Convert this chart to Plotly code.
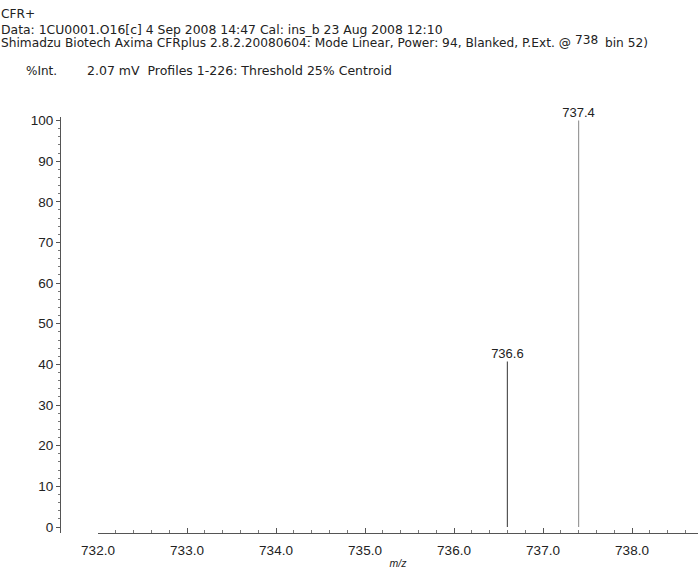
import plotly.graph_objects as go

# Data
peak_mz = [736.6, 737.4]
peak_int = [40.7, 100.0]
peak_labels = ["736.6", "737.4"]
peak_colors = ["#555555", "#9a9a9a"]
x_tick_vals = [732.0, 733.0, 734.0, 735.0, 736.0, 737.0, 738.0]
x_tick_text = ["732.0", "733.0", "734.0", "735.0", "736.0", "737.0", "738.0"]
y_tick_vals = [0, 10, 20, 30, 40, 50, 60, 70, 80, 90, 100]

header_line1 = "CFR+"
header_line2 = "Data: 1CU0001.O16[c] 4 Sep 2008 14:47 Cal: ins_b 23 Aug 2008 12:10"
header_line3 = "Shimadzu Biotech Axima CFRplus 2.8.2.20080604: Mode Linear, Power: 94, Blanked, P.Ext. @"
header_ext = "738"
header_tail = "bin 52)"
sub_left = "%Int."
sub_right = "2.07 mV  Profiles 1-226: Threshold 25% Centroid"

FONT = "Liberation Sans, Arial, sans-serif"
HFONT = "DejaVu Sans, Verdana, sans-serif"
W, H = 698, 574

# pixel layout
x0_px, px_per_unit = 98.0, 89.0
x_range = [732.0, 732.0 + (W - x0_px) / px_per_unit]
yaxis_px = 60
y100_px, y0_px, xline_px, ytop_px = 120.5, 527.0, 533.0, 117.0
ppu = (y0_px - y100_px) / 100.0
y_range = [-(xline_px - y0_px) / ppu, 100 + (y100_px - ytop_px) / ppu]

fig = go.Figure()
for mz, inten, col in zip(peak_mz, peak_int, peak_colors):
    fig.add_trace(go.Scatter(x=[mz, mz], y=[0, inten], mode="lines",
                             line=dict(color=col, width=1.2),
                             hoverinfo="skip", showlegend=False))
fig.add_trace(go.Scatter(x=peak_mz, y=peak_int, mode="text", text=peak_labels,
                         textposition="top center",
                         textfont=dict(family=FONT, size=13, color="#222"),
                         showlegend=False, hoverinfo="skip", cliponaxis=False))

fig.update_layout(
    width=W, height=H,
    margin=dict(l=0, r=0, t=0, b=0, autoexpand=False),
    paper_bgcolor="white", plot_bgcolor="white",
    font=dict(family=FONT, color="#222"),
    xaxis=dict(domain=[x0_px / W, 1.0], range=x_range, automargin=False,
               tickvals=x_tick_vals, ticktext=x_tick_text,
               showline=True, linecolor="#555", linewidth=1,
               ticks="inside", ticklen=5, tickcolor="#555",
               minor=dict(dtick=0.2, ticks="inside", ticklen=3, tickcolor="#777"),
               showgrid=False, zeroline=False,
               tickfont=dict(size=13.5, color="#222"), ticklabelstandoff=5,
               title=dict(text="<i>m/z</i>", font=dict(size=10.5, color="#222"), standoff=2)),
    yaxis=dict(domain=[1 - xline_px / H, 1 - ytop_px / H], range=y_range,
               anchor="free", position=yaxis_px / W, automargin=False,
               tickvals=y_tick_vals,
               showline=True, linecolor="#555", linewidth=1,
               ticks="outside", ticklen=4, tickcolor="#555",
               minor=dict(dtick=2, ticks="outside", ticklen=2, tickcolor="#777"),
               showgrid=False, zeroline=False,
               tickfont=dict(size=13.5, color="#222")),
)

def note(text, x_px, y_px, size, family=HFONT):
    fig.add_annotation(text=text, xref="paper", yref="paper", x=x_px / W, y=1 - y_px / H,
                       xanchor="left", yanchor="middle", showarrow=False, borderpad=0,
                       font=dict(family=family, size=size, color="#222"))

note(header_line1, 0, 14, 12.2)
note(header_line2, 0, 29, 12.4)
note(header_line3, 0, 43.5, 12.2)
note(header_ext, 574, 39.5, 12.2)
note(header_tail, 604, 43.5, 12.2)
note(sub_left, 25, 71, 12)
note(sub_right, 86, 71, 12.5)

fig.write_html("out.html", config={"displayModeBar": False},
               post_script="document.body.style.margin='0';")
